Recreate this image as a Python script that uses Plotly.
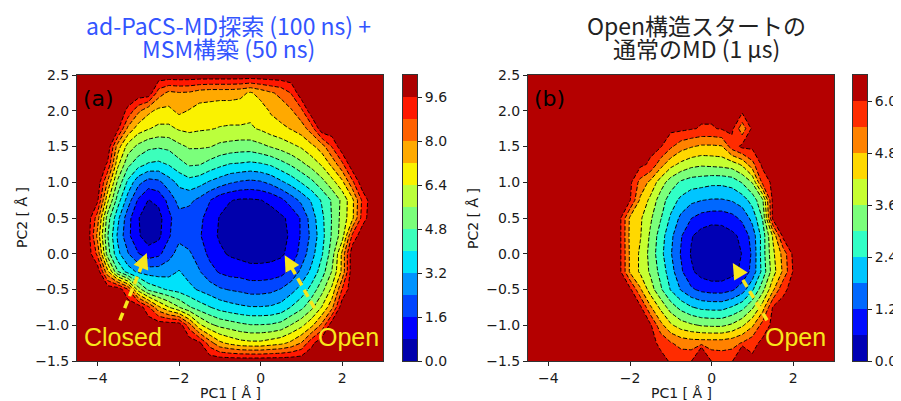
import numpy as np
import plotly.graph_objects as go

# ---------------- data ----------------
pc1 = [-4.5, -4.25, -4.0, -3.75, -3.5, -3.25, -3.0, -2.75, -2.5, -2.25, -2.0, -1.75, -1.5, -1.25, -1.0,
       -0.75, -0.5, -0.25, 0.0, 0.25, 0.5, 0.75, 1.0, 1.25, 1.5, 1.75, 2.0, 2.25, 2.5, 2.75, 3.0]
pc2 = [-1.5, -1.25, -1.0, -0.75, -0.5, -0.25, 0.0, 0.25, 0.5, 0.75, 1.0, 1.25, 1.5, 1.75, 2.0, 2.25, 2.5]

# free energy, panel (a): ad-PaCS-MD + MSM (rows = PC2 from -1.5 to 2.5)
fe_a = [
    [10.2, 10.2, 10.2, 10.2, 10.2, 10.2, 10.2, 10.2, 10.2, 10.2, 10.2, 10.2, 10.2, 10.2, 10.2, 10.2, 10.2, 10.2, 10.2, 10.2, 10.2, 10.2, 10.2, 10.2, 10.2, 10.2, 10.2, 10.2, 10.2, 10.2, 10.2],
    [10.2, 10.2, 10.2, 10.2, 10.2, 10.2, 10.2, 10.2, 10.2, 10.2, 10.2, 10.2, 9.8, 8.4, 7.4, 7.0, 6.7, 6.6, 6.6, 6.8, 7.0, 7.4, 8.05, 9.4, 10.2, 10.2, 10.2, 10.2, 10.2, 10.2, 10.2],
    [10.2, 10.2, 10.2, 10.2, 10.2, 10.2, 10.2, 10.2, 10.2, 10.2, 10.2, 8.4, 6.6, 5.8, 5.4, 5.2, 5.0, 4.85, 4.85, 4.9, 5.1, 5.65, 6.2, 7.0, 8.2, 10.2, 10.2, 10.2, 10.2, 10.2, 10.2],
    [10.2, 10.2, 10.2, 10.2, 10.2, 10.2, 10.2, 9.0, 7.4, 6.45, 5.65, 4.9, 4.4, 4.05, 3.7, 3.5, 3.35, 3.25, 3.25, 3.3, 3.5, 4.05, 4.6, 5.4, 6.45, 7.8, 10.2, 10.2, 10.2, 10.2, 10.2],
    [10.2, 10.2, 10.2, 10.2, 10.2, 8.85, 6.05, 4.6, 4.2, 3.9, 3.7, 3.4, 3.1, 2.8, 2.5, 2.35, 2.25, 2.1, 2.1, 2.2, 2.45, 2.9, 3.5, 4.3, 5.3, 6.6, 8.85, 10.2, 10.2, 10.2, 10.2],
    [10.2, 10.2, 10.2, 7.4, 4.85, 3.6, 3.05, 2.85, 2.8, 2.9, 3.25, 2.9, 2.45, 1.9, 1.5, 1.3, 1.25, 1.1, 1.1, 1.15, 1.3, 1.8, 2.6, 3.4, 4.4, 5.65, 7.4, 10.2, 10.2, 10.2, 10.2],
    [10.2, 10.2, 8.6, 5.2, 3.4, 2.45, 1.65, 1.15, 1.4, 2.1, 2.7, 2.5, 2.05, 1.4, 0.95, 0.7, 0.55, 0.45, 0.45, 0.5, 0.65, 1.1, 1.9, 2.9, 3.9, 5.2, 7.4, 10.2, 10.2, 10.2, 10.2],
    [10.2, 10.2, 7.8, 4.85, 3.05, 1.8, 0.9, 0.4, 0.6, 1.5, 2.2, 2.05, 1.7, 1.1, 0.7, 0.35, 0.2, 0.1, 0.15, 0.3, 0.5, 0.95, 1.7, 2.6, 3.7, 4.9, 6.0, 9.0, 10.2, 10.2, 10.2],
    [10.2, 10.2, 8.4, 5.2, 3.4, 1.9, 0.85, 0.3, 0.5, 1.4, 2.1, 2.0, 1.8, 1.25, 0.75, 0.4, 0.25, 0.2, 0.25, 0.4, 0.65, 1.0, 1.7, 2.8, 3.8, 4.85, 5.9, 7.0, 9.2, 10.2, 10.2],
    [10.2, 10.2, 9.8, 6.6, 4.4, 2.8, 1.5, 0.78, 1.0, 1.85, 2.7, 2.6, 2.2, 1.65, 1.1, 0.85, 0.7, 0.7, 0.78, 1.0, 1.4, 2.0, 2.6, 3.3, 4.1, 4.9, 5.8, 7.0, 9.0, 10.2, 10.2],
    [10.2, 10.2, 10.2, 7.9, 5.4, 3.8, 2.65, 2.05, 2.2, 2.85, 3.4, 3.7, 3.5, 3.1, 2.8, 2.5, 2.3, 2.2, 2.3, 2.6, 3.05, 3.5, 4.05, 4.6, 5.3, 6.1, 7.0, 8.6, 10.2, 10.2, 10.2],
    [10.2, 10.2, 10.2, 9.5, 6.6, 5.0, 4.3, 3.9, 3.8, 4.05, 4.5, 4.9, 4.85, 4.5, 4.2, 3.95, 3.9, 3.8, 3.9, 4.1, 4.5, 4.9, 5.4, 5.9, 6.5, 7.4, 8.6, 10.2, 10.2, 10.2, 10.2],
    [10.2, 10.2, 10.2, 10.2, 7.6, 6.05, 5.4, 5.0, 4.9, 5.0, 5.4, 5.7, 5.7, 5.65, 5.4, 5.3, 5.2, 5.2, 5.4, 5.65, 5.9, 6.2, 6.5, 7.0, 7.6, 8.85, 10.2, 10.2, 10.2, 10.2, 10.2],
    [10.2, 10.2, 10.2, 10.2, 9.8, 7.8, 6.8, 6.45, 6.2, 6.2, 6.5, 6.6, 6.5, 6.45, 6.35, 6.3, 6.3, 6.3, 6.5, 6.8, 7.0, 7.25, 7.6, 8.4, 10.2, 10.2, 10.2, 10.2, 10.2, 10.2, 10.2],
    [10.2, 10.2, 10.2, 10.2, 10.2, 9.4, 8.2, 7.4, 7.0, 7.0, 7.4, 7.15, 6.9, 6.9, 6.8, 6.8, 6.8, 6.6, 6.8, 7.3, 7.6, 7.9, 8.6, 10.2, 10.2, 10.2, 10.2, 10.2, 10.2, 10.2, 10.2],
    [10.2, 10.2, 10.2, 10.2, 10.2, 10.2, 10.2, 10.2, 8.4, 7.8, 7.95, 7.9, 7.6, 7.5, 7.5, 7.5, 7.4, 7.1, 7.5, 7.9, 8.2, 8.85, 10.2, 10.2, 10.2, 10.2, 10.2, 10.2, 10.2, 10.2, 10.2],
    [10.2, 10.2, 10.2, 10.2, 10.2, 10.2, 10.2, 10.2, 10.2, 10.2, 10.2, 10.2, 10.2, 10.2, 10.2, 10.2, 10.2, 10.2, 10.2, 10.2, 10.2, 10.2, 10.2, 10.2, 10.2, 10.2, 10.2, 10.2, 10.2, 10.2, 10.2],
]

# free energy, panel (b): conventional MD from Open (rows = PC2 from -1.5 to 2.5)
fe_b = [
    [6.15, 6.15, 6.15, 6.15, 6.15, 6.15, 6.15, 6.15, 6.15, 6.15, 6.15, 6.15, 6.15, 6.15, 5.95, 5.8, 5.9, 9.0, 5.9, 5.8, 5.8, 9.0, 6.15, 6.15, 6.15, 6.15, 6.15, 6.15, 6.15, 6.15, 6.15],
    [6.15, 6.15, 6.15, 6.15, 6.15, 6.15, 6.15, 6.15, 6.15, 6.15, 6.15, 6.15, 6.15, 5.9, 5.45, 5.2, 5.1, 5.1, 5.1, 5.1, 5.2, 5.45, 5.8, 6.15, 6.15, 6.15, 6.15, 6.15, 6.15, 6.15, 6.15],
    [6.15, 6.15, 6.15, 6.15, 6.15, 6.15, 6.15, 6.15, 6.15, 6.15, 6.15, 6.15, 6.1, 5.0, 4.3, 3.9, 3.7, 3.55, 3.5, 3.5, 3.7, 4.1, 4.7, 5.65, 6.15, 6.15, 6.15, 6.15, 6.15, 6.15, 6.15],
    [6.15, 6.15, 6.15, 6.15, 6.15, 6.15, 6.15, 6.15, 6.15, 6.15, 6.15, 6.15, 4.9, 4.05, 3.3, 2.8, 2.45, 2.25, 2.2, 2.2, 2.45, 2.8, 3.5, 4.5, 6.05, 6.15, 6.15, 6.15, 6.15, 6.15, 6.15],
    [6.15, 6.15, 6.15, 6.15, 6.15, 6.15, 6.15, 6.15, 6.15, 6.15, 6.15, 4.9, 3.9, 3.1, 2.35, 1.75, 1.3, 1.05, 0.95, 0.95, 1.1, 1.5, 2.3, 3.4, 4.65, 5.9, 6.15, 6.15, 6.15, 6.15, 6.15],
    [6.15, 6.15, 6.15, 6.15, 6.15, 6.15, 6.15, 6.15, 6.15, 6.15, 4.7, 4.1, 3.5, 2.8, 2.05, 1.3, 0.7, 0.35, 0.2, 0.2, 0.4, 0.75, 1.4, 2.6, 3.9, 4.9, 6.05, 6.15, 6.15, 6.15, 6.15],
    [6.15, 6.15, 6.15, 6.15, 6.15, 6.15, 6.15, 6.15, 6.15, 6.15, 4.7, 4.1, 3.4, 2.6, 1.85, 1.15, 0.55, 0.25, 0.1, 0.1, 0.3, 0.62, 1.3, 2.7, 4.05, 5.0, 6.15, 6.15, 6.15, 6.15, 6.15],
    [6.15, 6.15, 6.15, 6.15, 6.15, 6.15, 6.15, 6.15, 6.15, 6.15, 4.65, 4.25, 3.5, 2.7, 1.95, 1.25, 0.65, 0.35, 0.2, 0.25, 0.45, 0.75, 1.45, 2.65, 4.25, 6.15, 6.15, 6.15, 6.15, 6.15, 6.15],
    [6.15, 6.15, 6.15, 6.15, 6.15, 6.15, 6.15, 6.15, 6.15, 6.15, 4.7, 4.3, 3.7, 3.05, 2.3, 1.65, 1.22, 0.95, 0.85, 0.85, 1.0, 1.35, 2.0, 3.05, 6.15, 6.15, 6.15, 6.15, 6.15, 6.15, 6.15],
    [6.15, 6.15, 6.15, 6.15, 6.15, 6.15, 6.15, 6.15, 6.15, 6.15, 6.05, 4.7, 4.05, 3.3, 2.7, 2.25, 1.95, 1.82, 1.75, 1.75, 1.85, 2.1, 2.65, 3.5, 6.15, 6.15, 6.15, 6.15, 6.15, 6.15, 6.15],
    [6.15, 6.15, 6.15, 6.15, 6.15, 6.15, 6.15, 6.15, 6.15, 6.15, 6.15, 5.2, 4.65, 3.9, 3.3, 2.9, 2.7, 2.65, 2.55, 2.55, 2.65, 3.05, 3.65, 5.6, 6.15, 6.15, 6.15, 6.15, 6.15, 6.15, 6.15],
    [6.15, 6.15, 6.15, 6.15, 6.15, 6.15, 6.15, 6.15, 6.15, 6.15, 6.15, 6.15, 5.9, 5.05, 4.4, 4.05, 3.8, 3.7, 3.75, 3.8, 3.9, 4.3, 5.2, 6.15, 6.15, 6.15, 6.15, 6.15, 6.15, 6.15, 6.15],
    [6.15, 6.15, 6.15, 6.15, 6.15, 6.15, 6.15, 6.15, 6.15, 6.15, 6.15, 6.15, 6.15, 6.05, 5.5, 5.05, 4.85, 4.7, 4.7, 4.75, 5.7, 6.15, 6.15, 6.15, 6.15, 6.15, 6.15, 6.15, 6.15, 6.15, 6.15],
    [6.15, 6.15, 6.15, 6.15, 6.15, 6.15, 6.15, 6.15, 6.15, 6.15, 6.15, 6.15, 6.15, 6.15, 6.15, 6.15, 6.05, 5.95, 5.95, 6.05, 6.15, 5.0, 6.15, 6.15, 6.15, 6.15, 6.15, 6.15, 6.15, 6.15, 6.15],
    [6.15, 6.15, 6.15, 6.15, 6.15, 6.15, 6.15, 6.15, 6.15, 6.15, 6.15, 6.15, 6.15, 6.15, 6.15, 6.15, 6.15, 6.15, 6.15, 6.15, 6.15, 6.15, 6.15, 6.15, 6.15, 6.15, 6.15, 6.15, 6.15, 6.15, 6.15],
    [6.15, 6.15, 6.15, 6.15, 6.15, 6.15, 6.15, 6.15, 6.15, 6.15, 6.15, 6.15, 6.15, 6.15, 6.15, 6.15, 6.15, 6.15, 6.15, 6.15, 6.15, 6.15, 6.15, 6.15, 6.15, 6.15, 6.15, 6.15, 6.15, 6.15, 6.15],
    [6.15, 6.15, 6.15, 6.15, 6.15, 6.15, 6.15, 6.15, 6.15, 6.15, 6.15, 6.15, 6.15, 6.15, 6.15, 6.15, 6.15, 6.15, 6.15, 6.15, 6.15, 6.15, 6.15, 6.15, 6.15, 6.15, 6.15, 6.15, 6.15, 6.15, 6.15],
]

levels_a = [0.0, 0.8, 1.6, 2.4, 3.2, 4.0, 4.8, 5.6, 6.4, 7.2, 8.0, 8.8, 9.6, 10.4]
levels_b = [0.0, 0.6, 1.2, 1.8, 2.4, 3.0, 3.6, 4.2, 4.8, 5.4, 6.0, 6.6]
cb_ticks_a = [0.0, 1.6, 3.2, 4.8, 6.4, 8.0, 9.6]
cb_ticks_b = [0.0, 1.2, 2.4, 3.6, 4.8, 6.0]
x_ticks = [-4, -2, 0, 2]
x_ticktext = ["\u22124", "\u22122", "0", "2"]
y_ticks = [-1.5, -1.0, -0.5, 0.0, 0.5, 1.0, 1.5, 2.0, 2.5]
y_ticktext = ["\u22121.5", "\u22121.0", "\u22120.5", "0.0", "0.5", "1.0", "1.5", "2.0", "2.5"]

title_a = ["ad-PaCS-MD探索 (100 ns) +", "MSM構築 (50 ns)"]
title_b = ["Open構造スタートの", "通常のMD (1 μs)"]

# annotation arrows: (tail_x, tail_y, head_x, head_y)
arrows_a = [(-3.45, -0.93, -2.79, 0.01), (1.32, -0.76, 0.59, -0.02)]
arrows_b = [(1.36, -0.93, 0.52, -0.13)]

# ---------------- styling helpers ----------------
W, H = 901, 401
OFF = 8  # page body margin of the html page


def jet(v):
    r = np.interp(v, [0, 0.35, 0.66, 0.89, 1], [0, 0, 1, 1, 0.5])
    g = np.interp(v, [0, 0.125, 0.375, 0.64, 0.91, 1], [0, 0, 1, 1, 0, 0])
    b = np.interp(v, [0, 0.11, 0.34, 0.65, 1], [0.5, 1, 1, 0, 0])
    return "rgb(%d,%d,%d)" % (round(r * 255), round(g * 255), round(b * 255))


def band_colors(levels):
    n = len(levels) - 1
    return [jet((k + 0.5) / n) for k in range(n)]


def contour_scale(cols):
    n = len(cols) - 1
    return [[k / n, c] for k, c in enumerate(cols)]


def step_scale(cols):
    n = len(cols)
    out = []
    for k, c in enumerate(cols):
        out.append([k / n, c])
        out.append([(k + 1) / n, c])
    return out


def px_x(p):
    return (p - OFF) / W


def px_y(p):
    return 1 - (p - OFF) / H


cols_a = band_colors(levels_a)
cols_b = band_colors(levels_b)

line_style = dict(color="black", width=1, dash="4px,2px", smoothing=0)

fig = go.Figure()

fig.add_trace(go.Contour(
    x=pc1, y=pc2, z=fe_a, xaxis="x", yaxis="y",
    autocontour=False,
    contours=dict(start=levels_a[1], end=levels_a[-2], size=levels_a[1] - levels_a[0],
                  coloring="fill", showlines=True),
    colorscale=contour_scale(cols_a), showscale=False, line=line_style,
    hoverinfo="skip",
))
fig.add_trace(go.Contour(
    x=pc1, y=pc2, z=fe_b, xaxis="x2", yaxis="y2",
    autocontour=False,
    contours=dict(start=levels_b[1], end=levels_b[-2], size=levels_b[1] - levels_b[0],
                  coloring="fill", showlines=True),
    colorscale=contour_scale(cols_b), showscale=False, line=line_style,
    hoverinfo="skip",
))

# colour bars drawn as heatmaps of the level bands
mids_a = [[(levels_a[i] + levels_a[i + 1]) / 2] for i in range(len(levels_a) - 1)]
mids_b = [[(levels_b[i] + levels_b[i + 1]) / 2] for i in range(len(levels_b) - 1)]
fig.add_trace(go.Heatmap(x=[0, 1], y=levels_a, z=mids_a, xaxis="x3", yaxis="y3",
                         colorscale=step_scale(cols_a), zmin=levels_a[0], zmax=levels_a[-1],
                         showscale=False, hoverinfo="skip"))
fig.add_trace(go.Heatmap(x=[0, 1], y=levels_b, z=mids_b, xaxis="x4", yaxis="y4",
                         colorscale=step_scale(cols_b), zmin=levels_b[0], zmax=levels_b[-1],
                         showscale=False, hoverinfo="skip"))

tick_font = dict(family="DejaVu Sans", size=14, color="#1a1a1a")
ydom = [px_y(361), px_y(75)]

main_x = dict(range=[-4.5, 3], tickvals=x_ticks, ticktext=x_ticktext, ticks="outside",
              ticklen=4, tickwidth=1, tickcolor="#222", showline=True, mirror=True,
              linecolor="#333", linewidth=1, showgrid=False, zeroline=False, tickfont=tick_font,
              automargin=False)
main_y = dict(range=[-1.5, 2.5], tickvals=y_ticks, ticktext=y_ticktext, ticks="outside",
              ticklen=4, tickwidth=1, tickcolor="#222", showline=True, mirror=True,
              linecolor="#333", linewidth=1, showgrid=False, zeroline=False, tickfont=tick_font,
              domain=ydom, automargin=False)
cb_x = dict(range=[0, 1], showticklabels=False, ticks="", showline=True, mirror=True,
            linecolor="#333", linewidth=1, showgrid=False, zeroline=False, automargin=False)
cb_y = dict(domain=ydom, side="right", ticks="outside", ticklen=4, tickcolor="#222",
            showline=True, mirror=True, linecolor="#333", linewidth=1, showgrid=False,
            zeroline=False, tickfont=tick_font, automargin=False)

fig.update_layout(
    template="none",
    width=W, height=H, margin=dict(l=0, r=0, t=0, b=0, pad=0, autoexpand=False),
    paper_bgcolor="white", plot_bgcolor="white", showlegend=False,
    xaxis=dict(main_x, domain=[px_x(77), px_x(383)], anchor="y"),
    yaxis=dict(main_y, anchor="x"),
    xaxis2=dict(main_x, domain=[px_x(528), px_x(834)], anchor="y2"),
    yaxis2=dict(main_y, anchor="x2"),
    xaxis3=dict(cb_x, domain=[px_x(403), px_x(417)], anchor="y3"),
    yaxis3=dict(cb_y, range=[levels_a[0], levels_a[-1]], anchor="x3",
                tickvals=cb_ticks_a, ticktext=["%.1f" % t for t in cb_ticks_a]),
    xaxis4=dict(cb_x, domain=[px_x(853), px_x(867)], anchor="y4"),
    yaxis4=dict(cb_y, range=[levels_b[0], levels_b[-1]], anchor="x4",
                tickvals=cb_ticks_b, ticktext=["%.1f" % t for t in cb_ticks_b]),
)

ann = []
title_font_a = dict(family="Noto Sans CJK JP", size=23, color="#3355ff")
title_font_b = dict(family="Noto Sans CJK JP", size=23, color="#222222")
for i, t in enumerate(title_a):
    ann.append(dict(text=t, x=px_x(228.5), y=px_y(25 + 23 * i), xref="paper", yref="paper",
                    xanchor="center", yanchor="middle", showarrow=False, font=title_font_a))
for i, t in enumerate(title_b):
    ann.append(dict(text=t, x=px_x(696.5), y=px_y(25 + 23 * i), xref="paper", yref="paper",
                    xanchor="center", yanchor="middle", showarrow=False, font=title_font_b))

axis_font = dict(family="DejaVu Sans", size=14, color="#1a1a1a")
for cx in (230, 681):
    ann.append(dict(text="PC1 [ Å ]", x=px_x(cx), y=px_y(393), xref="paper", yref="paper",
                    xanchor="center", yanchor="middle", showarrow=False, font=axis_font))
for cx in (22, 473):
    ann.append(dict(text="PC2 [ Å ]", x=px_x(cx), y=px_y(218), xref="paper", yref="paper",
                    xanchor="center", yanchor="middle", showarrow=False, font=axis_font,
                    textangle=-90))

panel_font = dict(family="DejaVu Sans", size=22, color="black")
ann.append(dict(text="(a)", x=px_x(81), y=px_y(98), xref="paper", yref="paper",
                xanchor="left", yanchor="middle", showarrow=False, font=panel_font))
ann.append(dict(text="(b)", x=px_x(532), y=px_y(98), xref="paper", yref="paper",
                xanchor="left", yanchor="middle", showarrow=False, font=panel_font))

yellow = "#f8e71c"
lab_font = dict(family="Liberation Sans", size=25, color=yellow)
for txt, cx in (("Closed", 123), ("Open", 348.5), ("Open", 795)):
    ann.append(dict(text=txt, x=px_x(cx), y=px_y(337), xref="paper", yref="paper",
                    xanchor="center", yanchor="middle", showarrow=False, font=lab_font))

shapes = []
for arrs, xr, yr in ((arrows_a, "x", "y"), (arrows_b, "x2", "y2")):
    for tx, ty, hx, hy in arrs:
        mx = tx + 0.8 * (hx - tx)
        my = ty + 0.8 * (hy - ty)
        shapes.append(dict(type="line", xref=xr, yref=yr, x0=tx, y0=ty, x1=mx, y1=my,
                           line=dict(color=yellow, width=3.5, dash="8px,5px")))
        ann.append(dict(text="", x=hx, y=hy, ax=mx, ay=my, xref=xr, yref=yr, axref=xr, ayref=yr,
                        showarrow=True, arrowhead=2, arrowsize=0.9, arrowwidth=3.5,
                        arrowcolor=yellow))

fig.update_layout(annotations=ann, shapes=shapes)

fig.write_html("out.html")
